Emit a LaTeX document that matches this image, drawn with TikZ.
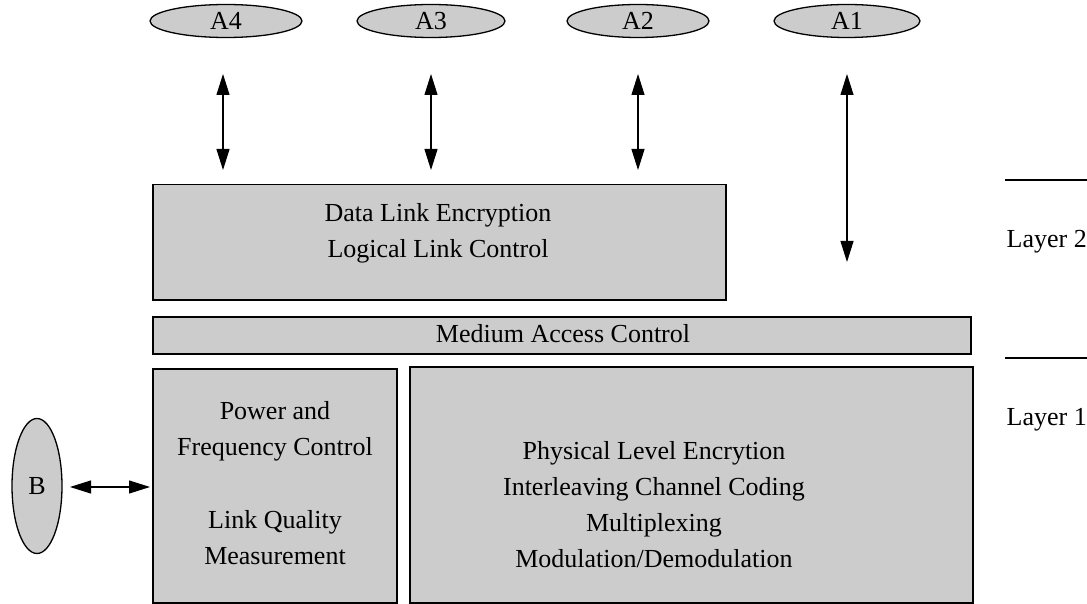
\documentclass[tikz,border=0pt]{standalone}
\usepackage{fontspec}
\setmainfont{Liberation Serif}
\usetikzlibrary{arrows.meta,shapes.geometric}
\tikzset{
  shade/.style={fill=black!20},
  ell/.style={ellipse, draw=black, line width=1.3pt, shade, inner sep=0pt},
  box/.style={draw=black, line width=1.5pt, shade, inner sep=0pt, anchor=north west},
  txt/.style={align=center, font=\fontsize{26}{36}\selectfont},
  biarrow/.style={line width=1.1pt, {Triangle[length=21pt,width=13pt]}-{Triangle[length=21pt,width=13pt]}},
  layerline/.style={line width=1.3pt}
}
\begin{document}
\begin{tikzpicture}[x=1pt,y=-1pt]
\useasboundingbox (0,0) rectangle (1087,604);
% top ellipses
\node[ell, minimum width=152pt, minimum height=33pt, txt] (A4) at (226,21) {A4};
\node[ell, minimum width=148pt, minimum height=33pt, txt] (A3) at (431,21) {A3};
\node[ell, minimum width=142pt, minimum height=33pt, txt] (A2) at (638,21) {A2};
\node[ell, minimum width=146pt, minimum height=33pt, txt] (A1) at (847,21) {A1};
% boxes
\node[box, minimum width=573pt, minimum height=115pt] (dl) at (152,184) {};
\node[txt] (dlt) at (438,233) {Data Link Encryption\\Logical Link Control};
\node[box, minimum width=818pt, minimum height=37pt] (mac) at (152,316) {};
\node[txt] (mact) at (563,334) {Medium Access Control};
\node[box, minimum width=244pt, minimum height=234pt] (pw) at (152,368) {};
\node[txt] (pwt) at (275,483) {Power and\\Frequency Control\\[37pt]Link Quality\\Measurement};
\node[box, minimum width=563pt, minimum height=236pt] (ph) at (409,366) {};
\node[txt] (pht) at (654,505) {Physical Level Encrytion\\Interleaving Channel Coding\\Multiplexing\\Modulation/Demodulation};
% B ellipse
\node[ell, minimum width=50pt, minimum height=135pt, txt] (B) at (37,486) {B};
% arrow end points
\coordinate (a4t) at (223,74);  \coordinate (a4b) at (223,170);
\coordinate (a3t) at (431,74);  \coordinate (a3b) at (431,170);
\coordinate (a2t) at (638,74);  \coordinate (a2b) at (638,170);
\coordinate (a1t) at (847,74);  \coordinate (a1b) at (847,262);
\coordinate (bl) at (70,487);   \coordinate (br) at (150,487);
\draw[biarrow] (a4t) -- (a4b);
\draw[biarrow] (a3t) -- (a3b);
\draw[biarrow] (a2t) -- (a2b);
\draw[biarrow] (a1t) -- (a1b);
\draw[biarrow] (bl) -- (br);
% layer markers
\coordinate (l2a) at (1005,180); \coordinate (l2b) at (1087,180);
\coordinate (l1a) at (1005,358); \coordinate (l1b) at (1087,358);
\draw[layerline] (l2a) -- (l2b);
\draw[layerline] (l1a) -- (l1b);
\node[txt, anchor=east, inner sep=0pt] (L2) at (1087,242) {Layer 2};
\node[txt, anchor=east, inner sep=0pt] (L1) at (1087,420) {Layer 1};
\end{tikzpicture}
\end{document}
